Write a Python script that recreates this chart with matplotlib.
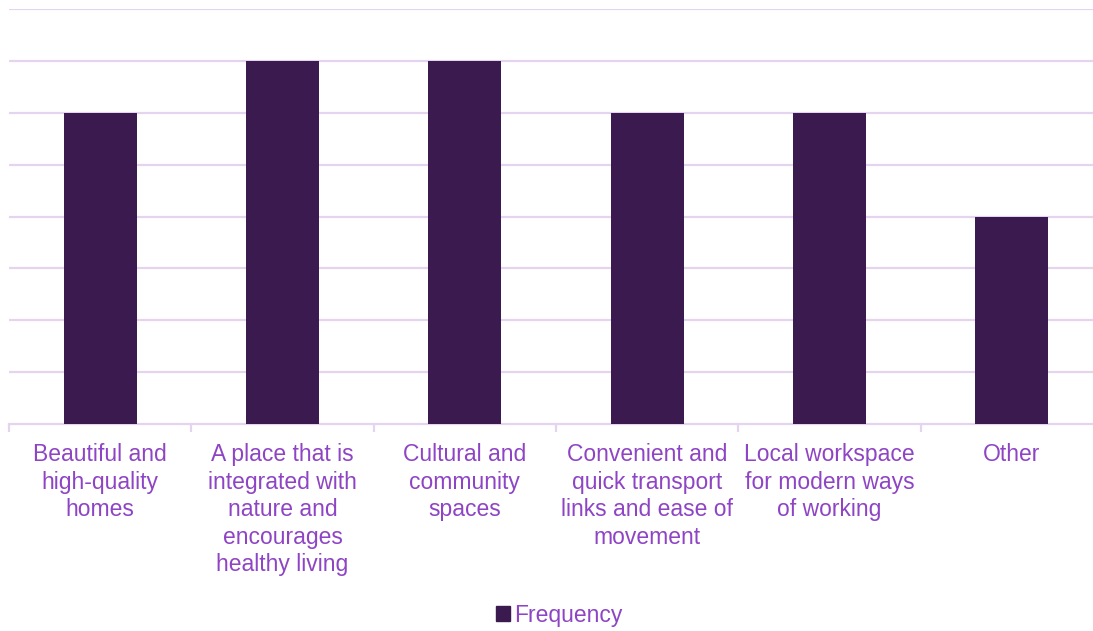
import matplotlib.pyplot as plt
from matplotlib.patches import Patch

plt.rcParams["font.family"] = ["Liberation Sans", "DejaVu Sans"]

# Survey responses
categories = [
    "Beautiful and\nhigh-quality\nhomes",
    "A place that is\nintegrated with\nnature and\nencourages\nhealthy living",
    "Cultural and\ncommunity\nspaces",
    "Convenient and\nquick transport\nlinks and ease of\nmovement",
    "Local workspace\nfor modern ways\nof working",
    "Other",
]
frequency = [6, 7, 7, 6, 6, 4]

bar_color = "#3B1A4F"
text_color = "#8E44C4"
grid_color = "#E4D4F0"

fig = plt.figure(figsize=(10.93, 6.31), dpi=100)
ax = fig.add_axes([9 / 1093, 207 / 631, 1094 / 1093, 415 / 631])

x = range(len(categories))
ax.bar(x, frequency, width=0.4, color=bar_color, zorder=3)

ax.set_xlim(-0.5, len(categories) - 0.5)
ax.set_ylim(0, 8)
ax.set_yticks(range(1, 9))
ax.yaxis.grid(True, color=grid_color, linewidth=1.6)
ax.set_axisbelow(True)
ax.tick_params(axis="y", left=False, labelleft=False)

for side in ["top", "right", "left"]:
    ax.spines[side].set_visible(False)
ax.spines["bottom"].set_color(grid_color)
ax.spines["bottom"].set_linewidth(1.6)

# category labels on major ticks, divider marks on minor ticks
ax.set_xticks(list(x))
ax.set_xticklabels(categories, color=text_color, fontsize=16.5, linespacing=1.25, va="top")
ax.tick_params(axis="x", which="major", length=0, pad=14)
ax.set_xticks([i - 0.5 for i in range(len(categories) + 1)], minor=True)
ax.tick_params(axis="x", which="minor", length=6, width=1.6, color=grid_color)

fig.legend(handles=[Patch(color=bar_color, label="Frequency")],
           loc="center", bbox_to_anchor=(0.512, 0.025), frameon=False,
           fontsize=16.5, labelcolor=text_color, handlelength=0.6, handleheight=0.6,
           handletextpad=0.2)

fig.savefig("out.png", dpi=100)
